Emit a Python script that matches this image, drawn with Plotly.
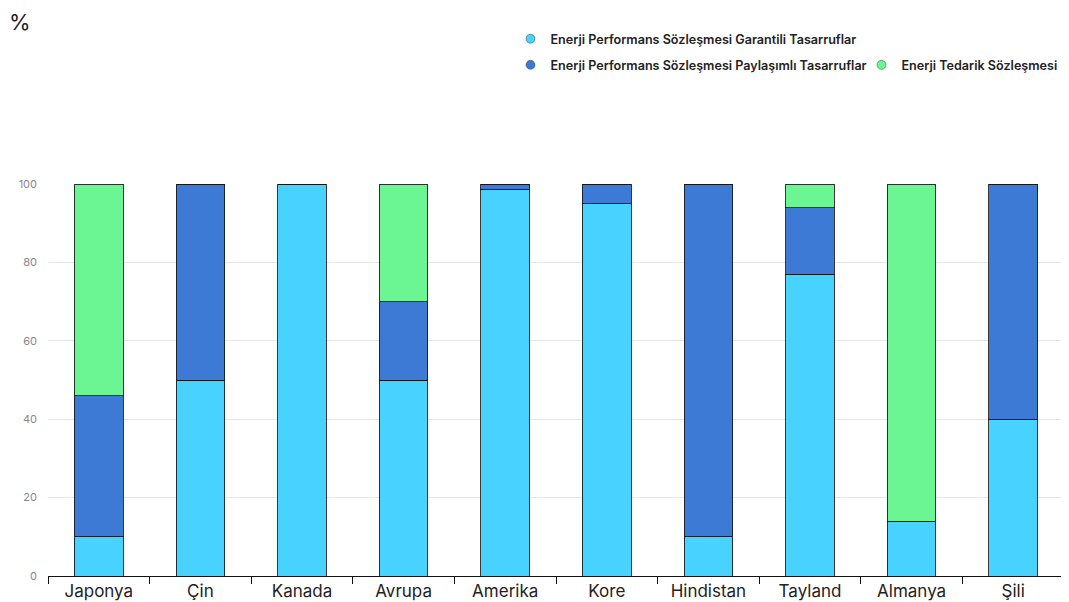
import plotly.graph_objects as go

categories = ["Japonya", "Çin", "Kanada", "Avrupa", "Amerika", "Kore", "Hindistan", "Tayland", "Almanya", "Şili"]
garantili = [10, 50, 100, 50, 98.7, 95, 10, 77, 14, 40]
paylasimli = [36, 50, 0, 20, 1.3, 5, 90, 17, 0, 60]
tedarik = [54, 0, 0, 30, 0, 0, 0, 6, 86, 0]
y_ticks = [0, 20, 40, 60, 80, 100]

names = ["Enerji Performans Sözleşmesi Garantili Tasarruflar",
         "Enerji Performans Sözleşmesi Paylaşımlı Tasarruflar",
         "Enerji Tedarik Sözleşmesi"]
colors = ["#48D2FF", "#3D7AD5", "#6BF593"]
series = [garantili, paylasimli, tedarik]

fig = go.Figure()
for name, col, vals in zip(names, colors, series):
    fig.add_trace(go.Bar(
        x=categories, y=vals, name=name, showlegend=False,
        marker=dict(color=col, line=dict(color="rgba(20,20,20,0.85)", width=1)),
        width=0.48,
    ))

legend_ids = ["legend", "legend2", "legend2"]
for name, col, lg in zip(names, colors, legend_ids):
    fig.add_trace(go.Scatter(
        x=[None], y=[None], mode="markers", name=name, legend=lg,
        marker=dict(symbol="circle", size=9, color=col, line=dict(color="rgba(0,0,0,0.35)", width=1)),
    ))

legend_font = dict(family="Inter, Noto Sans, sans-serif", size=12.6, color="#222", weight=600)
fig.update_layout(
    barmode="stack",
    width=1061, height=594,
    margin=dict(l=40, r=5, t=176, b=26, autoexpand=False),
    plot_bgcolor="white", paper_bgcolor="white",
    legend=dict(orientation="h", xref="container", yref="container", x=0.4736, y=0.973,
                xanchor="left", yanchor="top", font=legend_font, bgcolor="rgba(0,0,0,0)"),
    legend2=dict(orientation="h", xref="container", yref="container", x=0.4736, y=0.929,
                 xanchor="left", yanchor="top", font=legend_font, bgcolor="rgba(0,0,0,0)",
                 entrywidth=306, entrywidthmode="pixels"),
    xaxis=dict(
        type="category", tickson="boundaries", ticks="outside", ticklen=7, tickwidth=1.2,
        tickcolor="#111", showline=True, linecolor="#111", linewidth=1.2,
        tickfont=dict(family="Inter, Noto Sans, sans-serif", size=17, color="#222"),
        showgrid=False, automargin=False, ticklabelstandoff=-1,
    ),
    yaxis=dict(
        range=[0, 100], tickvals=y_ticks, showgrid=True, gridcolor="#e6e6e6", gridwidth=1,
        zeroline=False, ticks="", ticklabelstandoff=10, automargin=False,
        tickfont=dict(family="Inter, Noto Sans, sans-serif", size=11, color="#888"),
    ),
    annotations=[dict(text="%", xref="paper", yref="paper", x=-0.0394, y=1.449,
                      xanchor="left", yanchor="top", showarrow=False, borderpad=0,
                      font=dict(family="Inter, Noto Sans, sans-serif", size=22, color="#222"))],
)
fig.write_html("out.html")
